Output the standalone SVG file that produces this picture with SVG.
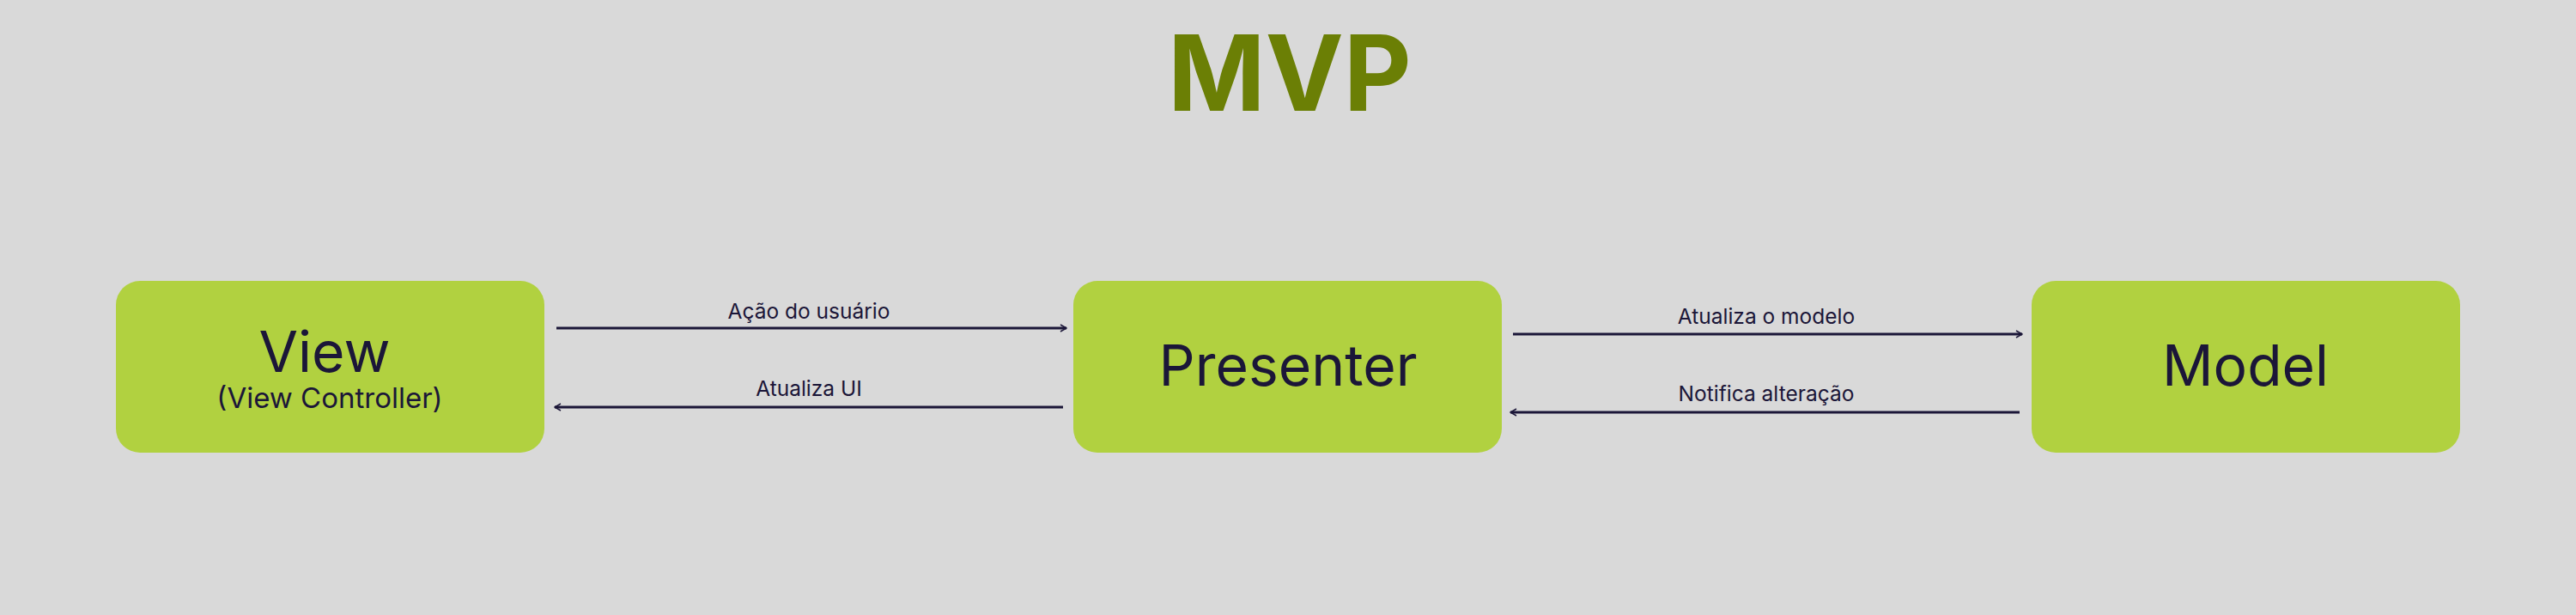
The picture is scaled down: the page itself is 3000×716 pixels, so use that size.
<svg xmlns="http://www.w3.org/2000/svg" width="3000" height="716" viewBox="0 0 3000 716">
<style>
.node{fill:#b1d140;}
.big{font-family:Inter,"Noto Sans",sans-serif;font-size:66px;fill:#1b1638;text-anchor:middle;}
.sub{font-family:Inter,"Noto Sans",sans-serif;font-size:33px;fill:#1b1638;text-anchor:middle;}
.lbl{font-family:Inter,"Noto Sans",sans-serif;font-size:24.5px;fill:#1b1638;text-anchor:middle;}
.conn{stroke:#1b1638;stroke-width:3;fill:none;}
</style>
<defs>
<marker id="arr" viewBox="0 0 10 10" refX="9" refY="5" markerWidth="10" markerHeight="10" markerUnits="userSpaceOnUse" orient="auto-start-reverse">
<path d="M2,1 L9,5 L2,9" fill="none" stroke="#1b1638" stroke-width="1.5"/>
</marker>
</defs>
<rect width="3000" height="716" fill="#d9d9d9"/>
<text x="1502" y="129" font-family="Inter,'Noto Sans',sans-serif" font-size="122" font-weight="bold" fill="#6b7f05" text-anchor="middle">MVP</text>
<g id="view">
<rect class="node" x="135" y="327" width="499" height="200" rx="28"/>
<text class="big" x="378" y="433">View</text>
<text class="sub" x="384" y="475">(View Controller)</text>
</g>
<g id="presenter">
<rect class="node" x="1250" y="327" width="499" height="200" rx="28"/>
<text class="big" x="1500" y="449">Presenter</text>
</g>
<g id="model">
<rect class="node" x="2366" y="327" width="499" height="200" rx="28"/>
<text class="big" x="2615" y="449">Model</text>
</g>
<g id="connectors">
<line class="conn" x1="648" y1="382" x2="1242" y2="382" marker-end="url(#arr)"/>
<text class="lbl" x="942" y="371">Ação do usuário</text>
<line class="conn" x1="1238" y1="474" x2="646" y2="474" marker-end="url(#arr)"/>
<text class="lbl" x="942" y="461">Atualiza UI</text>
<line class="conn" x1="1762" y1="389" x2="2355" y2="389" marker-end="url(#arr)"/>
<text class="lbl" x="2057" y="377">Atualiza o modelo</text>
<line class="conn" x1="2352" y1="480" x2="1759" y2="480" marker-end="url(#arr)"/>
<text class="lbl" x="2057" y="467">Notifica alteração</text>
</g>
</svg>
